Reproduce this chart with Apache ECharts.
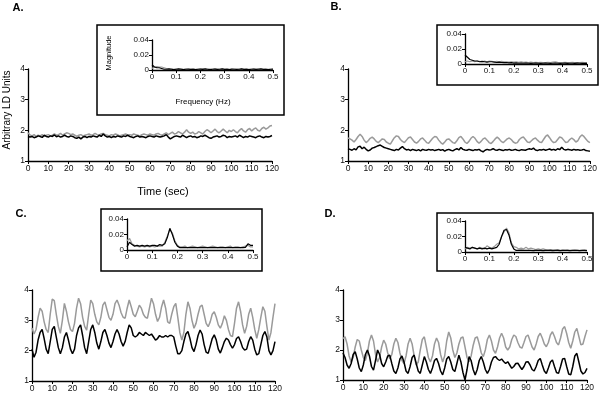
<!DOCTYPE html>
<html>
<head>
<meta charset="utf-8">
<script src="https://cdn.jsdelivr.net/npm/echarts@6/dist/echarts.min.js"></script>
<style>
  html, body { margin: 0; padding: 0; background: #fff; }
  #chart { width: 600px; height: 395px; }
</style>
</head>
<body>
<div id="chart"></div>
<script>
// time series, one sample per second, 0..120 s
const aBlack = [1.8,1.78,1.8,1.76,1.78,1.82,1.8,1.77,1.84,1.8,
  1.78,1.82,1.8,1.85,1.79,1.82,1.78,1.8,1.84,1.8,
  1.78,1.82,1.8,1.76,1.74,1.78,1.72,1.78,1.8,1.76,
  1.8,1.78,1.82,1.8,1.78,1.84,1.8,1.88,1.82,1.78,
  1.8,1.76,1.8,1.78,1.82,1.8,1.78,1.82,1.8,1.84,
  1.8,1.78,1.76,1.8,1.82,1.78,1.8,1.78,1.76,1.8,
  1.82,1.8,1.78,1.82,1.8,1.78,1.8,1.82,1.86,1.78,
  1.72,1.76,1.8,1.82,1.8,1.78,1.84,1.8,1.76,1.8,
  1.82,1.78,1.8,1.76,1.78,1.82,1.8,1.84,1.8,1.76,
  1.74,1.78,1.8,1.82,1.78,1.8,1.84,1.82,1.76,1.8,
  1.78,1.8,1.82,1.78,1.84,1.8,1.76,1.8,1.78,1.82,
  1.8,1.78,1.76,1.8,1.82,1.78,1.76,1.8,1.78,1.8,1.83];
const aGray = [1.92,1.85,1.82,1.86,1.8,1.84,1.82,1.86,1.8,1.84,
  1.86,1.82,1.84,1.88,1.84,1.86,1.9,1.84,1.88,1.92,
  1.9,1.86,1.88,1.84,1.8,1.84,1.86,1.82,1.84,1.86,
  1.88,1.84,1.86,1.9,1.86,1.84,1.88,1.9,1.86,1.84,
  1.82,1.86,1.84,1.88,1.86,1.82,1.84,1.86,1.88,1.84,
  1.86,1.84,1.88,1.86,1.84,1.82,1.86,1.88,1.86,1.84,
  1.88,1.86,1.84,1.88,1.9,1.86,1.84,1.88,1.92,1.86,
  1.9,1.94,1.88,1.9,1.96,1.92,1.88,1.94,2.02,1.94,
  1.9,1.94,1.88,1.9,1.96,1.92,1.88,1.96,2.02,1.98,
  1.92,1.98,2.04,1.96,1.92,1.98,2.04,1.98,1.92,2.0,
  1.96,2.02,1.96,1.92,2.0,2.06,1.98,1.94,2.02,2.06,
  1.98,2.04,2.08,2.0,1.98,2.06,2.1,2.04,2.08,2.14,2.16];
const bBlack = [1.4,1.38,1.35,1.4,1.36,1.46,1.48,1.4,1.45,1.38,
  1.33,1.36,1.42,1.44,1.47,1.5,1.52,1.48,1.44,1.42,
  1.4,1.38,1.36,1.34,1.38,1.36,1.42,1.47,1.4,1.36,
  1.38,1.34,1.38,1.36,1.34,1.37,1.33,1.38,1.36,1.35,
  1.38,1.36,1.37,1.34,1.36,1.38,1.35,1.37,1.32,1.36,
  1.38,1.35,1.33,1.37,1.4,1.36,1.44,1.38,1.36,1.35,
  1.38,1.36,1.34,1.37,1.36,1.38,1.33,1.3,1.35,1.38,
  1.36,1.37,1.4,1.36,1.35,1.38,1.36,1.34,1.37,1.36,
  1.38,1.35,1.36,1.38,1.35,1.34,1.37,1.36,1.35,1.38,
  1.4,1.38,1.42,1.36,1.34,1.37,1.36,1.38,1.35,1.37,
  1.39,1.36,1.38,1.35,1.4,1.37,1.45,1.38,1.36,1.38,
  1.37,1.35,1.38,1.36,1.37,1.35,1.36,1.38,1.34,1.33,1.32];
const bGray = [1.75,1.72,1.68,1.62,1.7,1.8,1.87,1.8,1.68,1.6,
  1.66,1.74,1.78,1.72,1.64,1.6,1.66,1.72,1.7,1.62,
  1.58,1.55,1.66,1.76,1.82,1.8,1.7,1.64,1.6,1.68,
  1.76,1.78,1.7,1.62,1.58,1.64,1.72,1.75,1.68,1.6,
  1.58,1.66,1.74,1.8,1.78,1.68,1.6,1.55,1.62,1.7,
  1.72,1.66,1.6,1.58,1.66,1.76,1.8,1.72,1.62,1.57,
  1.64,1.74,1.8,1.74,1.64,1.58,1.64,1.72,1.75,1.68,
  1.6,1.57,1.64,1.72,1.78,1.72,1.64,1.6,1.66,1.72,
  1.75,1.7,1.62,1.58,1.6,1.7,1.76,1.78,1.7,1.62,
  1.6,1.66,1.72,1.75,1.68,1.62,1.6,1.7,1.8,1.85,
  1.76,1.66,1.6,1.62,1.7,1.78,1.76,1.68,1.6,1.62,
  1.7,1.75,1.7,1.62,1.66,1.78,1.85,1.8,1.72,1.64,1.6];
const cBlack = [2.05,1.78,1.95,2.35,2.6,2.7,2.4,2.05,1.9,2.3,
  2.7,2.8,2.45,2.1,1.9,2.1,2.45,2.6,2.35,2.05,
  1.9,2.05,2.5,2.75,2.85,2.5,2.1,1.9,2.3,2.7,
  2.85,2.6,2.25,2.05,2.3,2.6,2.7,2.5,2.25,2.1,
  2.3,2.55,2.7,2.55,2.3,2.15,2.3,2.6,2.85,2.75,
  2.5,2.45,2.5,2.6,2.55,2.5,2.6,2.55,2.5,2.55,
  2.45,2.35,2.4,2.5,2.45,2.45,2.5,2.45,2.5,2.5,
  2.45,2.15,1.9,1.9,2.0,2.3,2.55,2.63,2.4,2.1,
  1.97,2.2,2.5,2.68,2.55,2.2,1.95,1.91,2.15,2.4,
  2.52,2.35,2.05,1.92,2.1,2.3,2.41,2.35,2.2,2.08,
  2.2,2.4,2.46,2.3,2.1,2.02,2.05,2.3,2.46,2.35,
  2.05,1.86,1.9,2.2,2.5,2.63,2.45,2.0,1.86,2.0,2.3];
const cGray = [2.75,2.55,2.7,3.1,3.4,3.3,2.95,2.7,2.6,3.2,
  3.7,3.65,3.2,2.8,2.57,3.0,3.56,3.3,2.95,2.7,
  2.63,2.9,3.4,3.73,3.55,3.1,2.8,2.68,3.2,3.67,
  3.55,3.2,2.95,2.85,3.1,3.5,3.61,3.35,3.1,3.0,
  3.2,3.55,3.67,3.5,3.25,3.1,3.07,3.4,3.67,3.45,
  3.2,3.12,3.3,3.5,3.4,3.2,3.1,3.07,3.4,3.73,
  3.55,3.2,2.96,3.1,3.45,3.67,3.4,2.95,2.9,3.2,
  3.45,3.56,3.1,2.6,2.35,2.6,3.2,3.61,3.4,3.0,
  2.74,2.9,3.2,3.45,3.5,3.2,2.9,2.79,2.95,3.2,
  3.28,3.1,2.85,2.74,2.9,3.15,3.0,2.7,2.5,2.46,
  2.9,3.4,3.61,3.3,2.85,2.57,2.8,3.2,3.4,3.1,
  2.7,2.41,2.7,3.1,3.45,3.3,2.8,2.35,2.6,3.1,3.55];
const dBlack = [1.9,1.75,1.5,1.39,1.55,1.85,1.94,1.7,1.4,1.28,
  1.5,1.85,2.0,1.8,1.45,1.33,1.65,2.0,1.85,1.55,
  1.44,1.6,1.8,1.83,1.55,1.3,1.22,1.4,1.7,1.8,
  1.6,1.3,1.22,1.45,1.75,1.83,1.55,1.3,1.22,1.5,
  1.78,1.6,1.35,1.22,1.4,1.65,1.72,1.55,1.3,1.17,
  1.4,1.7,1.78,1.6,1.35,1.28,1.55,1.83,1.6,1.25,
  1.0,1.35,1.78,1.65,1.35,1.17,1.35,1.65,1.78,1.6,
  1.35,1.22,1.35,1.6,1.75,1.78,1.7,1.65,1.7,1.62,
  1.55,1.61,1.5,1.39,1.45,1.55,1.56,1.45,1.35,1.45,
  1.6,1.61,1.5,1.35,1.3,1.45,1.65,1.72,1.5,1.3,
  1.22,1.4,1.6,1.67,1.45,1.25,1.22,1.45,1.7,1.72,
  1.45,1.2,1.17,1.45,1.8,1.89,1.6,1.3,1.2,1.25,1.39];
const dGray = [2.38,2.44,2.2,1.8,1.6,1.75,2.1,2.35,2.3,2.0,
  1.75,1.65,1.9,2.3,2.5,2.3,1.85,1.6,1.75,2.1,
  2.33,2.2,1.9,1.7,1.85,2.2,2.39,2.25,1.9,1.65,
  1.55,1.8,2.2,2.39,2.2,1.8,1.5,1.6,2.0,2.35,
  2.44,2.1,1.75,1.6,1.8,2.2,2.4,2.25,1.85,1.6,
  1.8,2.3,2.6,2.4,2.0,1.75,1.9,2.2,2.4,2.44,
  2.1,1.75,1.61,1.8,2.15,2.4,2.44,2.2,1.9,1.78,
  2.0,2.35,2.5,2.3,2.0,1.89,2.1,2.4,2.56,2.4,
  2.1,2.0,2.1,2.35,2.5,2.45,2.25,2.1,2.06,2.25,
  2.45,2.5,2.3,2.1,2.0,2.2,2.45,2.56,2.4,2.2,
  2.11,2.25,2.5,2.61,2.45,2.25,2.17,2.4,2.7,2.78,
  2.55,2.25,2.06,2.3,2.6,2.72,2.45,2.17,2.2,2.45,2.67];

// spectra, 0..0.5 Hz in 0.01 Hz steps
const aSpecBlack = [0.007,0.004,0.003,0.003,0.002,0.001,0.001,0.0015,0.001,0.0005,
  0.001,0.0015,0.001,0.0005,0.001,0.0012,0.0008,0.001,0.0005,0.001,
  0.0012,0.0008,0.0015,0.001,0.0005,0.001,0.0012,0.0008,0.001,0.0015,
  0.0008,0.001,0.0005,0.0012,0.001,0.0008,0.001,0.0015,0.0008,0.001,
  0.0005,0.001,0.0012,0.0008,0.001,0.0015,0.0008,0.001,0.0005,0.001,0.0012];
const aSpecGray = [0.002,0.004,0.0045,0.004,0.004,0.003,0.002,0.001,0.0015,0.001,
  0.0012,0.0008,0.0015,0.001,0.0012,0.0008,0.001,0.0015,0.001,0.0008,
  0.0012,0.0015,0.001,0.0008,0.0012,0.001,0.0015,0.0008,0.001,0.0012,
  0.001,0.0015,0.0008,0.001,0.0012,0.001,0.0008,0.0012,0.001,0.0015,
  0.0008,0.001,0.0012,0.001,0.0015,0.0008,0.001,0.0012,0.001,0.0008,0.001];
const bSpecBlack = [0.012,0.009,0.006,0.005,0.004,0.004,0.003,0.0035,0.003,0.0025,
  0.003,0.003,0.0025,0.002,0.0025,0.002,0.0018,0.002,0.0015,0.0018,
  0.0012,0.0015,0.001,0.0012,0.001,0.0012,0.001,0.0008,0.001,0.0012,
  0.001,0.0008,0.001,0.0012,0.001,0.0008,0.001,0.0012,0.001,0.0008,
  0.001,0.0012,0.0008,0.001,0.001,0.0008,0.0012,0.001,0.0008,0.001,0.0008];
const bSpecGray = [0.003,0.004,0.003,0.004,0.003,0.004,0.0035,0.003,0.004,0.003,
  0.004,0.0035,0.003,0.0035,0.003,0.0035,0.0028,0.003,0.0025,0.003,
  0.0025,0.003,0.0022,0.0028,0.0022,0.0025,0.002,0.0025,0.002,0.0022,
  0.0018,0.0022,0.002,0.0018,0.0022,0.002,0.0025,0.0028,0.0022,0.002,
  0.0018,0.0022,0.002,0.0018,0.0022,0.002,0.0018,0.002,0.0022,0.0018,0.002];
const cSpecBlack = [0.004,0.01,0.007,0.005,0.006,0.005,0.006,0.005,0.006,0.005,
  0.006,0.006,0.005,0.007,0.006,0.008,0.016,0.028,0.02,0.01,
  0.005,0.003,0.003,0.0032,0.003,0.003,0.0032,0.003,0.003,0.003,
  0.0032,0.003,0.003,0.003,0.0032,0.003,0.003,0.003,0.003,0.0032,
  0.003,0.003,0.003,0.003,0.003,0.003,0.003,0.0035,0.008,0.006,0.006];
const cSpecGray = [0.012,0.015,0.008,0.006,0.005,0.004,0.005,0.004,0.005,0.004,
  0.005,0.004,0.005,0.005,0.005,0.01,0.018,0.026,0.022,0.012,
  0.006,0.004,0.004,0.005,0.003,0.004,0.005,0.004,0.003,0.004,
  0.005,0.004,0.003,0.004,0.005,0.004,0.003,0.004,0.004,0.003,
  0.004,0.005,0.003,0.004,0.004,0.003,0.004,0.005,0.006,0.004,0.004];
const dSpecBlack = [0.006,0.005,0.004,0.006,0.005,0.004,0.005,0.004,0.005,0.004,
  0.005,0.004,0.005,0.006,0.01,0.02,0.028,0.029,0.022,0.01,
  0.004,0.002,0.002,0.0025,0.002,0.002,0.0022,0.002,0.0018,0.002,
  0.0022,0.002,0.0018,0.002,0.002,0.0022,0.0018,0.002,0.002,0.0018,
  0.002,0.0022,0.002,0.0018,0.002,0.0022,0.002,0.0018,0.002,0.002,0.0018];
const dSpecGray = [0.004,0.006,0.005,0.006,0.005,0.004,0.006,0.005,0.004,0.008,
  0.006,0.005,0.007,0.01,0.012,0.02,0.026,0.031,0.025,0.012,
  0.007,0.006,0.004,0.005,0.004,0.006,0.004,0.005,0.004,0.003,
  0.004,0.003,0.004,0.003,0.0025,0.003,0.0028,0.0025,0.003,0.0022,
  0.0025,0.002,0.0025,0.0022,0.002,0.0025,0.002,0.0022,0.002,0.0025,0.002];

const timeTicks = [0, 120, 10];
const unitTicks = [1, 4, 1];
const freqTicks = [0, 0.5, 0.1];
const magTicks = [0, 0.04, 0.02];

const FONT = "'Liberation Sans', Arial, sans-serif";
const GRAY = '#9a9a9a';

function pairs(vals, step) {
  return vals.map((v, i) => [+(i * step).toFixed(3), v]);
}

function axis(idx, t, size) {
  return {
    type: 'value',
    gridIndex: idx,
    min: t[0], max: t[1], interval: t[2],
    axisLine: { show: true, onZero: false, lineStyle: { color: '#000', width: 1.3 } },
    axisTick: { show: true, length: 3, lineStyle: { color: '#000', width: 1 } },
    axisLabel: { color: '#111', fontSize: size, fontFamily: FONT, margin: 3 },
    splitLine: { show: false }
  };
}

function line(idx, vals, step, color, w) {
  return {
    type: 'line',
    xAxisIndex: idx, yAxisIndex: idx,
    data: pairs(vals, step),
    showSymbol: false,
    silent: true,
    lineStyle: { color: color, width: w },
    z: color === '#000' ? 3 : 2
  };
}

// main plots 0-3, insets 4-7
const grids = [
  { left: 28, top: 69, width: 244, height: 92 },
  { left: 348, top: 69, width: 245, height: 92 },
  { left: 32, top: 290, width: 243, height: 91 },
  { left: 343, top: 290, width: 244, height: 90 },
  { left: 152, top: 40, width: 121, height: 30 },
  { left: 465, top: 34, width: 122, height: 30 },
  { left: 127, top: 219, width: 126, height: 31 },
  { left: 465, top: 221, width: 122, height: 31 }
];

const xAxes = [], yAxes = [];
for (let i = 0; i < 4; i++) {
  xAxes.push(axis(i, timeTicks, 8.5));
  yAxes.push(axis(i, unitTicks, 8.5));
}
for (let i = 4; i < 8; i++) {
  xAxes.push(axis(i, freqTicks, 8));
  yAxes.push(axis(i, magTicks, 8));
}

const series = [
  line(0, aGray, 1, GRAY, 1.5), line(0, aBlack, 1, '#000', 1.5),
  line(1, bGray, 1, GRAY, 1.5), line(1, bBlack, 1, '#000', 1.5),
  line(2, cGray, 1, GRAY, 1.5), line(2, cBlack, 1, '#000', 1.5),
  line(3, dGray, 1, GRAY, 1.5), line(3, dBlack, 1, '#000', 1.5),
  line(4, aSpecGray, 0.01, GRAY, 1.2), line(4, aSpecBlack, 0.01, '#000', 1.2),
  line(5, bSpecGray, 0.01, GRAY, 1.2), line(5, bSpecBlack, 0.01, '#000', 1.2),
  line(6, cSpecGray, 0.01, GRAY, 1.2), line(6, cSpecBlack, 0.01, '#000', 1.2),
  line(7, dSpecGray, 0.01, GRAY, 1.2), line(7, dSpecBlack, 0.01, '#000', 1.2)
];

function box(x, y, w, h) {
  return { type: 'rect', shape: { x: x, y: y, width: w, height: h },
    style: { fill: 'none', stroke: '#000', lineWidth: 1.5 }, z: 1 };
}
function label(txt, x, y, size, extra) {
  return Object.assign({ type: 'text', x: x, y: y,
    style: { text: txt, fill: '#000', font: size + 'px ' + FONT, align: 'center', verticalAlign: 'middle' } }, extra || {});
}

const graphics = [
  box(97, 25, 187, 90), box(437, 25, 161, 60), box(101, 209, 161, 62), box(437, 213, 156, 58),
  label('A.', 18, 8, 10), label('B.', 336, 7, 10), label('C.', 21, 214, 10), label('D.', 330, 214, 10),
  label('Time (sec)', 163, 192, 11),
  label('Frequency (Hz)', 203, 102, 8),
  label('Arbitrary LD Units', 7, 110, 10, { rotation: Math.PI / 2 }),
  label('Magnitude', 109, 53, 7.5, { rotation: Math.PI / 2 })
];
graphics.slice(4, 8).forEach(g => { g.style.font = 'bold 11px ' + FONT; });

const myChart = echarts.init(document.getElementById('chart'));
let option = {
  animation: false,
  backgroundColor: '#fff',
  grid: grids,
  xAxis: xAxes,
  yAxis: yAxes,
  series: series,
  graphic: graphics
};
myChart.setOption(option);
</script>
</body>
</html>
